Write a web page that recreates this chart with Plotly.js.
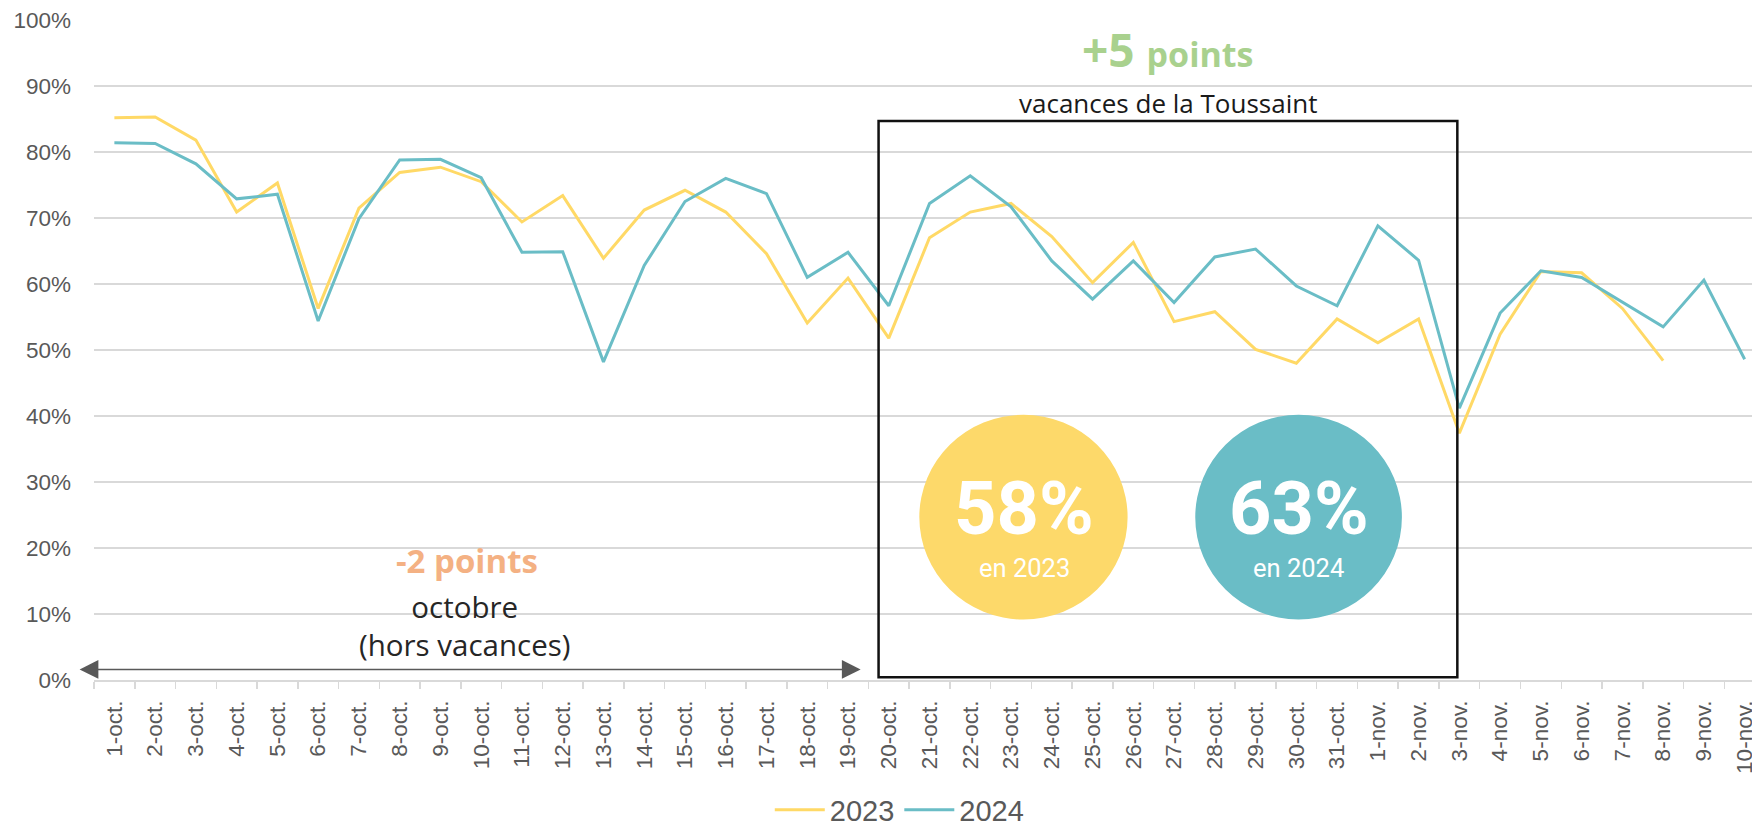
<!DOCTYPE html>
<html>
<head>
<meta charset="utf-8">
<script src="https://cdn.plot.ly/plotly-3.0.1.min.js"></script>
<style>html,body{margin:0;padding:0;background:#fff;}#chart{width:1752px;height:828px;}</style>
</head>
<body>
<div id="chart"></div>
<script>
var days = ['1-oct.','2-oct.','3-oct.','4-oct.','5-oct.','6-oct.','7-oct.','8-oct.','9-oct.','10-oct.',
  '11-oct.','12-oct.','13-oct.','14-oct.','15-oct.','16-oct.','17-oct.','18-oct.','19-oct.','20-oct.',
  '21-oct.','22-oct.','23-oct.','24-oct.','25-oct.','26-oct.','27-oct.','28-oct.','29-oct.','30-oct.',
  '31-oct.','1-nov.','2-nov.','3-nov.','4-nov.','5-nov.','6-nov.','7-nov.','8-nov.','9-nov.','10-nov.'];

var values2023 = [85.2,85.3,81.8,70.9,75.3,56.3,71.5,76.9,77.7,75.5,
  69.4,73.4,63.9,71.2,74.2,70.9,64.6,54.1,60.9,51.8,
  67.0,70.9,72.2,67.2,60.2,66.3,54.3,55.8,50.1,48.0,
  54.7,51.1,54.7,37.4,52.4,61.9,61.7,56.3,48.4,null,null];

var values2024 = [81.4,81.3,78.2,72.9,73.6,54.4,69.9,78.8,78.9,76.1,
  64.8,64.9,48.2,62.8,72.5,76.0,73.7,61.0,64.8,56.7,
  72.2,76.4,71.7,63.5,57.7,63.5,57.2,64.1,65.3,59.7,
  56.7,68.8,63.6,41.2,55.6,62.0,61.0,57.2,53.5,60.6,48.6];

var seriesNames = ['2023','2024'];
var seriesColors = ['#FFD966','#6ABDC6'];

var avgValues = ['58%','63%'];
var avgYears = ['en 2023','en 2024'];

var traces = [
  {x: days, y: values2023, name: seriesNames[0], type: 'scatter', mode: 'lines',
   line: {color: seriesColors[0], width: 3}, connectgaps: false},
  {x: days, y: values2024, name: seriesNames[1], type: 'scatter', mode: 'lines',
   line: {color: seriesColors[1], width: 3}}
];

var annFont = 'Open Sans, Roboto, sans-serif';

var layout = {
  width: 1752, height: 828,
  margin: {l: 94, r: 0, t: 20, b: 148, pad: 0, autoexpand: false},
  paper_bgcolor: '#ffffff', plot_bgcolor: '#ffffff',
  font: {family: 'Liberation Sans, Arial, sans-serif', color: '#595959'},
  showlegend: true,
  legend: {orientation: 'h', xref: 'paper', x: 0.486, xanchor: 'center',
    yref: 'container', y: 0.022, yanchor: 'middle',
    font: {size: 29, color: '#595959', family: 'Liberation Sans, Arial, sans-serif'},
    itemwidth: 50, tracegroupgap: 0},
  xaxis: {type: 'category', range: [-0.5, 40.18], showgrid: false, zeroline: false,
    showline: true, linecolor: '#D9D9D9', linewidth: 1.5,
    ticks: 'outside', tickson: 'boundaries', ticklen: 7, tickcolor: '#D9D9D9', tickwidth: 1.5,
    tickangle: -90, tickfont: {size: 22.5, color: '#595959'}, ticklabelstandoff: 10, automargin: false},
  yaxis: {range: [0, 100], dtick: 10, ticksuffix: '%', showgrid: true, gridcolor: '#D9D9D9', gridwidth: 1.5,
    zeroline: false, showline: false, ticks: '', tickfont: {size: 22.5, color: '#595959'},
    ticklabelstandoff: 22, automargin: false, fixedrange: true},
  shapes: [
    {type: 'rect', xref: 'x', yref: 'y', x0: 18.75, x1: 32.95, y0: 0.4, y1: 84.7,
     line: {color: '#111111', width: 2.5}, fillcolor: 'rgba(0,0,0,0)', layer: 'above'},
    {type: 'circle', xref: 'x', yref: 'y', x0: 19.75, x1: 24.86, y0: 9.16, y1: 40.18,
     fillcolor: '#FDD96A', line: {width: 0}, layer: 'above'},
    {type: 'circle', xref: 'x', yref: 'y', x0: 26.52, x1: 31.59, y0: 9.16, y1: 40.18,
     fillcolor: '#6ABDC6', line: {width: 0}, layer: 'above'}
  ],
  annotations: [
    {xref: 'x', yref: 'y', x: 25.85, y: 95.6, showarrow: false, xanchor: 'center', yanchor: 'middle',
     text: '<b>+5 <span style="font-size:34px">points</span></b>',
     font: {family: annFont, size: 46, color: '#A9D18E'}},
    {xref: 'x', yref: 'y', x: 25.85, y: 87.4, showarrow: false, xanchor: 'center', yanchor: 'middle',
     text: 'vacances de la Toussaint',
     font: {family: annFont, size: 26, color: '#1A1A1A'}},
    {xref: 'x', yref: 'y', x: 8.65, y: 18.1, showarrow: false, xanchor: 'center', yanchor: 'middle',
     text: '<b>-2 points</b>',
     font: {family: annFont, size: 33, color: '#F4B183'}},
    {xref: 'x', yref: 'y', x: 8.6, y: 8.3, showarrow: false, xanchor: 'center', yanchor: 'middle',
     text: 'octobre<br>(hors vacances)',
     font: {family: annFont, size: 29.5, color: '#262626'}},
    {xref: 'x', yref: 'y', x: 18.31, y: 1.6, axref: 'x', ayref: 'y', ax: -0.89, ay: 1.6,
     text: '', showarrow: true, arrowhead: 2, startarrowhead: 2, arrowside: 'end+start',
     arrowsize: 2.5, startarrowsize: 2.5, arrowwidth: 1.5, arrowcolor: '#595959', standoff: 0, startstandoff: 0},
    {xref: 'x', yref: 'y', x: 22.33, y: 26.0, showarrow: false, xanchor: 'center', yanchor: 'middle',
     text: '<b>' + avgValues[0] + '</b>', font: {family: 'Roboto, sans-serif', size: 74, color: '#FFFFFF'}},
    {xref: 'x', yref: 'y', x: 22.33, y: 17.0, showarrow: false, xanchor: 'center', yanchor: 'middle',
     text: avgYears[0], font: {family: 'Roboto, sans-serif', size: 25.5, color: '#FFFFFF'}},
    {xref: 'x', yref: 'y', x: 29.06, y: 26.0, showarrow: false, xanchor: 'center', yanchor: 'middle',
     text: '<b>' + avgValues[1] + '</b>', font: {family: 'Roboto, sans-serif', size: 74, color: '#FFFFFF'}},
    {xref: 'x', yref: 'y', x: 29.06, y: 17.0, showarrow: false, xanchor: 'center', yanchor: 'middle',
     text: avgYears[1], font: {family: 'Roboto, sans-serif', size: 25.5, color: '#FFFFFF'}}
  ]
};

Plotly.newPlot('chart', traces, layout, {displayModeBar: false, staticPlot: true});
</script>
</body>
</html>
